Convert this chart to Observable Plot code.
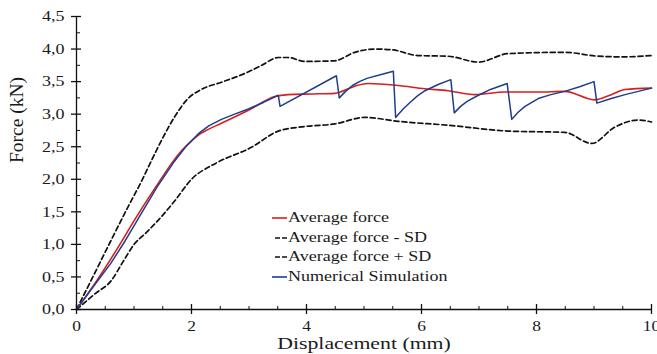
<!DOCTYPE html>
<html>
<head>
<meta charset="utf-8">
<script src="https://cdn.jsdelivr.net/npm/d3@7"></script>
<script src="https://cdn.jsdelivr.net/npm/@observablehq/plot@0.6"></script>
<style>
  body { margin: 0; background: #fff; }
  #chart { position: relative; width: 657px; height: 354px; overflow: hidden; }
  #chart svg { display: block; }
  .legend { position: absolute; left: 272px; top: 208px; font-family: "Liberation Serif", serif; font-size: 15px; color: #1a1a1a; }
  .legend .row { height: 19.7px; line-height: 19.7px; white-space: nowrap; display: flex; align-items: center; }
  .legend svg { flex: none; }
  .legend span { display: inline-block; transform: scaleX(1.2); transform-origin: left center; margin-left: 1px; }
</style>
</head>
<body>
<div id="chart"></div>
<script>
// Force–displacement curves: [displacement (mm), force (kN)]
const averageForce = [
  [0, 0], [0.35, 0.44], [0.72, 0.95], [1.0, 1.36], [1.25, 1.71], [1.46, 1.99],
  [1.65, 2.24], [1.83, 2.44], [2.0, 2.59], [2.12, 2.68], [2.3, 2.77], [2.52, 2.86],
  [2.99, 3.06], [3.45, 3.27], [3.68, 3.3], [4.1, 3.31], [4.49, 3.32], [4.84, 3.43],
  [5.07, 3.47], [5.59, 3.44], [6.06, 3.39], [6.46, 3.36], [6.93, 3.3],
  [7.45, 3.34], [8.03, 3.34], [8.49, 3.35], [9.01, 3.22], [9.3, 3.3],
  [9.54, 3.38], [10, 3.4]
];
const averageMinusSD = [
  [0, 0], [0.32, 0.24], [0.61, 0.45], [0.8, 0.72], [1.01, 1.01], [1.2, 1.17],
  [1.42, 1.37], [1.71, 1.67], [2.0, 2.0], [2.41, 2.24], [3.04, 2.49],
  [3.51, 2.74], [3.97, 2.81], [4.49, 2.85], [5.01, 2.95], [5.59, 2.89],
  [6.46, 2.83], [7.51, 2.74], [8.49, 2.72], [8.96, 2.55], [9.36, 2.8],
  [9.77, 2.91], [10, 2.88]
];
const averagePlusSD = [
  [0, 0], [0.25, 0.44], [0.56, 0.99], [0.91, 1.6], [1.13, 1.97], [1.3, 2.28],
  [1.48, 2.6], [1.7, 2.95], [1.94, 3.24], [2.17, 3.38], [2.52, 3.49],
  [2.99, 3.65], [3.22, 3.75], [3.51, 3.87], [3.68, 3.87], [3.97, 3.81],
  [4.49, 3.82], [4.84, 3.95], [5.19, 4.0], [5.48, 3.99], [5.94, 3.9],
  [6.46, 3.89], [6.99, 3.8], [7.51, 3.93], [8.49, 3.95], [9.07, 3.89],
  [9.5, 3.88], [10, 3.9]
];
const numericalSimulation = [
  [0, 0], [0.3, 0.36], [0.59, 0.7], [0.85, 1.06], [1.11, 1.45], [1.4, 1.88],
  [1.69, 2.26], [1.9, 2.5], [2.12, 2.7], [2.3, 2.82], [2.52, 2.92],
  [2.75, 3.0], [2.99, 3.08], [3.25, 3.18], [3.51, 3.29],
  [3.54, 3.12], [4.52, 3.59],
  [4.57, 3.25], [4.68, 3.35], [4.8, 3.44], [4.92, 3.5], [5.05, 3.55], [5.3, 3.61], [5.51, 3.66],
  [5.55, 2.95], [5.68, 3.08], [5.8, 3.18], [5.93, 3.28], [6.06, 3.36], [6.3, 3.46], [6.51, 3.53],
  [6.57, 3.02], [6.68, 3.12], [6.8, 3.2], [6.99, 3.29], [7.2, 3.38], [7.49, 3.47],
  [7.57, 2.92], [7.68, 3.03], [7.8, 3.12], [8.03, 3.24], [8.25, 3.3], [8.49, 3.35], [8.75, 3.42], [9.0, 3.5],
  [9.05, 3.17], [9.3, 3.24], [9.54, 3.3], [9.77, 3.35], [10, 3.4]
];

// Axis ticks
const xMajor = [0, 2, 4, 6, 8, 10];
const xMinor = [0.5, 1, 1.5, 2.5, 3, 3.5, 4.5, 5, 5.5, 6.5, 7, 7.5, 8.5, 9, 9.5];
const yMajor = [0, 0.5, 1, 1.5, 2, 2.5, 3, 3.5, 4, 4.5];
const yMinor = [0.25, 0.75, 1.25, 1.75, 2.25, 2.75, 3.25, 3.75, 4.25];

// Legend entries
const legendLabels = ["Average force", "Average force - SD", "Average force + SD", "Numerical Simulation"];
const legendColors = ["#d81e1e", "#111", "#111", "#1f3d8c"];
const legendDashed = [false, true, true, false];

const commaFormat = d => d.toFixed(1).replace(".", ",");
const px = d => d[0], py = d => d[1];

const plot = Plot.plot({
  width: 657,
  height: 354,
  marginLeft: 76,
  marginRight: 6,
  marginTop: 16,
  marginBottom: 45,
  x: { domain: [0, 10] },
  y: { domain: [0, 4.5] },
  style: { fontFamily: "Liberation Serif, serif", fontSize: "15px", color: "#1a1a1a", background: "#fff" },
  marks: [
    Plot.line(averagePlusSD, { x: px, y: py, stroke: "#111", strokeWidth: 1.7, strokeDasharray: "5,3", curve: "monotone-x" }),
    Plot.line(averageMinusSD, { x: px, y: py, stroke: "#111", strokeWidth: 1.7, strokeDasharray: "5,3", curve: "monotone-x" }),
    Plot.line(averageForce, { x: px, y: py, stroke: "#d81e1e", strokeWidth: 1.6, curve: "monotone-x" }),
    Plot.line(numericalSimulation, { x: px, y: py, stroke: "#1f3d8c", strokeWidth: 1.5 }),
    Plot.ruleX([0], { stroke: "#111", strokeWidth: 1.3 }),
    Plot.ruleY([0], { stroke: "#111", strokeWidth: 1.3 }),
    Plot.axisY(yMajor, { tickSize: 5, tickPadding: 7, tickFormat: commaFormat, label: null, stroke: "#111", strokeWidth: 1.3 }),
    Plot.axisY(yMajor, { tickSize: 5, dx: 5, fill: "none", label: null, stroke: "#111", strokeWidth: 1.3 }),
    Plot.axisY(yMinor, { tickSize: 4, dx: 4, fill: "none", label: null, stroke: "#111", strokeWidth: 1 }),
    Plot.axisX(xMajor, { tickSize: 5, tickPadding: 6, fontSize: 14.5, tickFormat: d => String(d), label: null, stroke: "#111", strokeWidth: 1.3 }),
    Plot.axisX(xMajor, { tickSize: 5, dy: -5, fill: "none", label: null, stroke: "#111", strokeWidth: 1.3 }),
    Plot.axisX(xMinor, { tickSize: 3, dy: -3, fill: "none", label: null, stroke: "#111", strokeWidth: 1 }),
    Plot.text(["Displacement (mm)"], { frameAnchor: "bottom", dy: 39.5, fontSize: 16.5, fill: "#1a1a1a" }),
    Plot.text(["Force (kN)"], { frameAnchor: "left", dx: -60, rotate: -90, fontSize: 19.5, fill: "#1a1a1a" })
  ]
});

const chart = document.getElementById("chart");
chart.appendChild(plot);

// Wide serif lettering: stretch horizontal labels
plot.querySelectorAll("text").forEach(t => {
  if (t.textContent === "Force (kN)") return;
  const factor = t.textContent === "Displacement (mm)" ? 1.32 : 1.2;
  const len = t.getComputedTextLength();
  if (len > 0) {
    t.setAttribute("textLength", (len * factor).toFixed(2));
    t.setAttribute("lengthAdjust", "spacingAndGlyphs");
  }
});

// Legend
const legend = document.createElement("div");
legend.className = "legend";
legendLabels.forEach((label, i) => {
  const row = document.createElement("div");
  row.className = "row";
  const dash = legendDashed[i] ? ' stroke-dasharray="5,2"' : "";
  const w = legendDashed[i] ? 12 : 15;
  row.innerHTML = `<svg width="15" height="10"><line x1="${15 - w}" y1="5" x2="15" y2="5" stroke="${legendColors[i]}" stroke-width="1.6"${dash}/></svg><span>${label}</span>`;
  legend.appendChild(row);
});
chart.appendChild(legend);
</script>
</body>
</html>
